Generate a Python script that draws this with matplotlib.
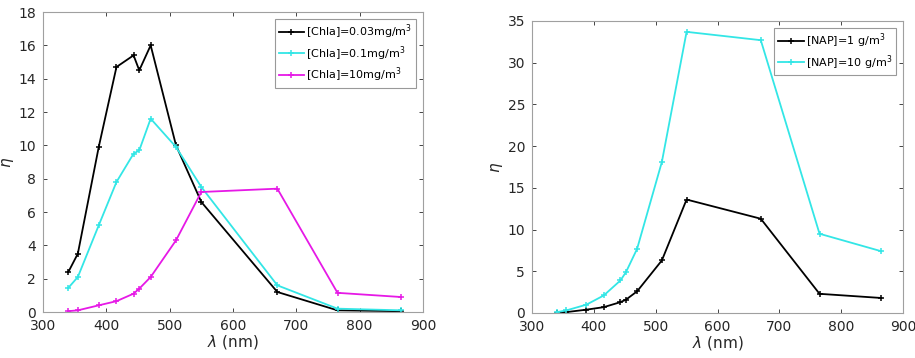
import numpy as np
import matplotlib.pyplot as plt

# wavelengths (nm)
wl = [340, 355, 388, 416, 443, 452, 470, 510, 550, 670, 765, 865]

# left panel: chlorophyll concentrations
chl_003 = [2.4, 3.5, 9.9, 14.7, 15.4, 14.5, 16.0, 10.0, 6.6, 1.2, 0.1, 0.05]
chl_01 = [1.45, 2.1, 5.2, 7.8, 9.5, 9.7, 11.6, 9.9, 7.5, 1.6, 0.2, 0.1]
chl_10 = [0.05, 0.1, 0.4, 0.65, 1.1, 1.4, 2.1, 4.3, 7.2, 7.4, 1.15, 0.9]

# right panel: NAP concentrations
nap_1 = [0.05, 0.1, 0.4, 0.7, 1.3, 1.6, 2.6, 6.3, 13.6, 11.3, 2.3, 1.8]
nap_10 = [0.1, 0.3, 1.0, 2.1, 3.9, 4.9, 7.7, 18.1, 33.7, 32.7, 9.5, 7.4]

W, H = 915, 358
fig = plt.figure(figsize=(W / 100, H / 100), dpi=100)

def px_axes(x0, y0, x1, y1):
    return fig.add_axes([x0 / W, 1 - y1 / H, (x1 - x0) / W, (y1 - y0) / H])

ax1 = px_axes(43, 12, 423, 312)
ax2 = px_axes(532, 21, 903, 313)

gray = '#262626'
style = dict(lw=1.3, marker='+', ms=4, mew=1.1)

ax1.plot(wl, chl_003, color='black', label='[Chla]=0.03mg/m$^3$', **style)
ax1.plot(wl, chl_01, color='#33e6e6', label='[Chla]=0.1mg/m$^3$', **style)
ax1.plot(wl, chl_10, color='#e619e6', label='[Chla]=10mg/m$^3$', **style)
ax1.set_ylim(0, 18)
ax1.set_yticks(np.arange(0, 19, 2))

ax2.plot(wl, nap_1, color='black', label='[NAP]=1 g/m$^3$', **style)
ax2.plot(wl, nap_10, color='#33e6e6', label='[NAP]=10 g/m$^3$', **style)
ax2.set_ylim(0, 35)
ax2.set_yticks(np.arange(0, 36, 5))

for ax in (ax1, ax2):
    ax.set_xlim(300, 900)
    ax.set_xticks(np.arange(300, 901, 100))
    ax.tick_params(direction='in', top=True, right=True, labelsize=10,
                   colors=gray, length=3, width=0.6, pad=5)
    for s in ax.spines.values():
        s.set_color('#a0a0a0')
        s.set_linewidth(0.8)
    ax.set_xlabel(r'$\lambda$ (nm)', fontsize=11, color=gray, labelpad=0)
    ax.set_ylabel(r'$\eta$', fontsize=11, color=gray, labelpad=2)
    leg = ax.legend(loc='upper right', fontsize=8, fancybox=False,
                    handlelength=2.3, borderpad=0.35, labelspacing=0.25,
                    handletextpad=0.2, borderaxespad=0.6)
    leg.get_frame().set_edgecolor('#808080')
    leg.get_frame().set_linewidth(0.8)

fig.savefig('out.png', dpi=100)
